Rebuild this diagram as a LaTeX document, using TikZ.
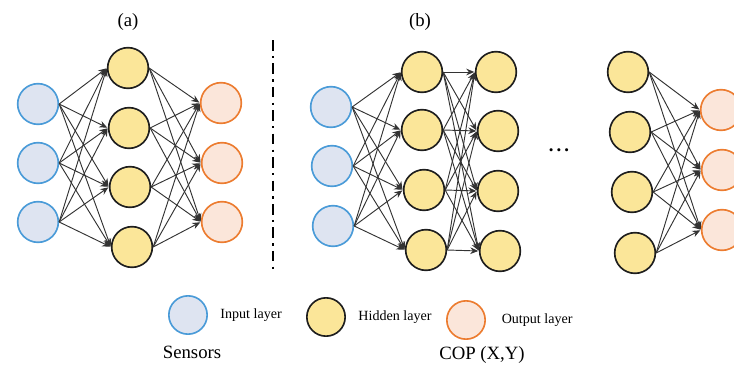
\documentclass[tikz,border=0pt]{standalone}
\usepackage{fontspec}
\setmainfont{Liberation Serif}
\usepackage{tikz}
\usetikzlibrary{arrows.meta,positioning}
\definecolor{inblue}{HTML}{4A9BD8}
\definecolor{infill}{HTML}{DEE4F1}
\definecolor{hidfill}{HTML}{FBE699}
\definecolor{hiddark}{HTML}{1E1E1E}
\definecolor{outorange}{HTML}{EC7C30}
\definecolor{outfill}{HTML}{FBE6DA}
\definecolor{edgegray}{HTML}{333333}
\tikzset{
  inneuron/.style={
    circle,
    draw=inblue,
    fill=infill,
    line width=1.4pt,
    minimum size=1.22cm,
    inner sep=0pt
  },
  hidneuron/.style={
    inneuron,
    draw=hiddark,
    fill=hidfill
  },
  outneuron/.style={
    inneuron,
    draw=outorange,
    fill=outfill
  },
  synapse/.style={
    -{Stealth[length=2.4mm,width=2mm]},
    line width=0.8pt,
    draw=edgegray,
    shorten >=0.5pt
  },
  legendtext/.style={
    font=\fontsize{12}{14}\selectfont,
    anchor=west
  },
  panellabel/.style={
    font=\fontsize{16}{18}\selectfont
  }
}

\begin{document}
\begin{tikzpicture}[x=0.03cm,y=-0.03cm]
  \useasboundingbox (0,0) rectangle (734,365);
  \clip (0,0) rectangle (734,365);

  % panel (a)
  \node[panellabel] (laba) at (128,22) {(a)};
  \node[inneuron] (ina1) at (38,104) {};
  \node[inneuron] (ina2) at (38,163) {};
  \node[inneuron] (ina3) at (38,222) {};
  \node[hidneuron] (ha1) at (128,68) {};
  \node[hidneuron] (ha2) at (129,128) {};
  \node[hidneuron] (ha3) at (130,187) {};
  \node[hidneuron] (ha4) at (132,247) {};
  \node[outneuron] (oa1) at (221,103) {};
  \node[outneuron] (oa2) at (222,163) {};
  \node[outneuron] (oa3) at (222,222) {};
  \foreach \i in {1,2,3} {
    \foreach \j in {1,2,3,4} {
      \draw[synapse] (ina\i.east) -- (ha\j.west);
      \draw[synapse] (ha\j.east) -- (oa\i.west);
    }
  }

  % separator
  \coordinate (septop) at (273,40);
  \coordinate (sepbot) at (273,274);
  \draw[line width=1.7pt, dash pattern=on 9pt off 4.5pt on 2pt off 4.5pt] (septop) -- (sepbot);

  % panel (b)
  \node[panellabel] (labb) at (420,22) {(b)};
  \node[inneuron] (inb1) at (331,107) {};
  \node[inneuron] (inb2) at (332,166) {};
  \node[inneuron] (inb3) at (333,226) {};
  \node[hidneuron] (hb1) at (422,72) {};
  \node[hidneuron] (hb2) at (422,130) {};
  \node[hidneuron] (hb3) at (424,190) {};
  \node[hidneuron] (hb4) at (426,250) {};
  \node[hidneuron] (hc1) at (496,72) {};
  \node[hidneuron] (hc2) at (498,131) {};
  \node[hidneuron] (hc3) at (498,191) {};
  \node[hidneuron] (hc4) at (500,251) {};
  \node[font=\fontsize{16}{18}\selectfont\bfseries] (dots) at (559,150) {.\,.\,.};
  \node[hidneuron] (hd1) at (628,72) {};
  \node[hidneuron] (hd2) at (630,132) {};
  \node[hidneuron] (hd3) at (632,192) {};
  \node[hidneuron] (hd4) at (635,253) {};
  \node[outneuron] (ob1) at (721,110) {};
  \node[outneuron] (ob2) at (722,170) {};
  \node[outneuron] (ob3) at (722,230) {};
  \foreach \j in {1,2,3,4} {
    \foreach \i in {1,2,3} {
      \draw[synapse] (inb\i.east) -- (hb\j.west);
      \draw[synapse] (hd\j.east) -- (ob\i.west);
    }
    \foreach \k in {1,2,3,4} {
      \draw[synapse] (hb\j.east) -- (hc\k.west);
    }
  }

  % legend
  \node[inneuron, minimum size=1.15cm] (leg1) at (188,315) {};
  \node[legendtext, right=0.25cm of leg1] (legt1) {Input layer};
  \node[hidneuron, minimum size=1.15cm] (leg2) at (326,317) {};
  \node[legendtext, right=0.25cm of leg2] (legt2) {Hidden layer};
  \node[outneuron, minimum size=1.15cm] (leg3) at (466,320) {};
  \node[legendtext, right=0.35cm of leg3] (legt3) {Output layer};
  \node[font=\fontsize{16}{18}\selectfont] (sensors) at (192,352) {Sensors};
  \node[font=\fontsize{16}{18}\selectfont] (cop) at (482,355) {COP (X,Y)};
\end{tikzpicture}
\end{document}
